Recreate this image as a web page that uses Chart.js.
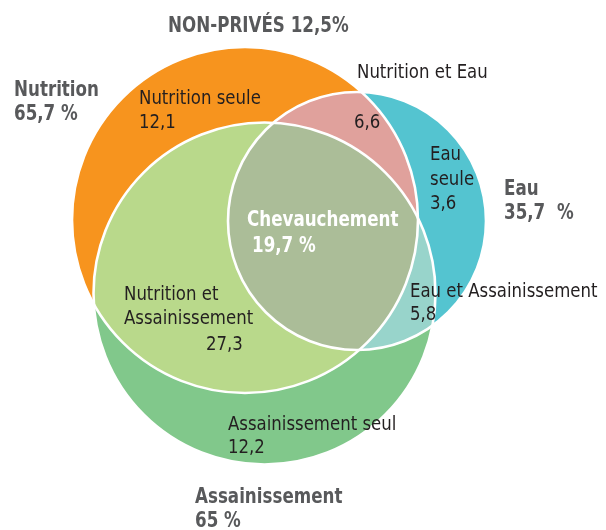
<!DOCTYPE html>
<html>
<head>
<meta charset="utf-8">
<script src="https://cdn.jsdelivr.net/npm/chart.js@4.4.1/dist/chart.umd.min.js"></script>
<style>
  html, body { margin: 0; padding: 0; background: #fff; }
  #wrap { width: 606px; height: 530px; position: relative; }
</style>
</head>
<body>
<div id="wrap"><canvas id="venn"></canvas></div>
<script>
// values
const setNames = ['Nutrition', 'Eau', 'Assainissement'];
const setTotals = [65.7, 35.7, 65];
const regionNames = ['Nutrition seule', 'Nutrition et Eau', 'Eau seule', 'Chevauchement',
  'Eau et Assainissement', 'Nutrition et Assainissement', 'Assainissement seul'];
const regionValues = [12.1, 6.6, 3.6, 19.7, 5.8, 27.3, 12.2];
const outsideLabel = 'NON-PRIVÉS';
const outsideValue = 12.5;

// layout (pixel space: x 0..606, y 0..530)
const circles = [
  { x: 245, y: 220, r: 173, color: '#F7941E' },   // Nutrition
  { x: 357, y: 221, r: 129, color: '#54C4D0' },   // Eau
  { x: 264.5, y: 293.5, r: 171, color: '#81C88B' } // Assainissement
];
const overlapFills = [
  { sets: [0, 2], color: '#B9D98B' },
  { sets: [0, 1], color: '#E0A19C' },
  { sets: [1, 2], color: '#98D4CB' },
  { sets: [0, 1, 2], color: '#ABBD98' }
];

const fmt = v => (Number.isInteger(v) ? String(v) : v.toFixed(1)).replace('.', ',');

// condensed look: DejaVu Sans Condensed squeezed a little more
const FONT = '"DejaVu Sans Condensed", "Liberation Sans Narrow", sans-serif';

// text placements: lines, x, y (baseline of first line)
const labels = [
  { lines: [outsideLabel + ' ' + fmt(outsideValue) + '%'], x: 168, y: 32, bold: true, color: '#58595B' },
  { lines: [setNames[0], fmt(setTotals[0]) + ' %'], x: 14, y: 96, bold: true, color: '#58595B' },
  { lines: [setNames[1], fmt(setTotals[1]) + '  %'], x: 504, y: 195, bold: true, color: '#58595B' },
  { lines: [setNames[2], fmt(setTotals[2]) + ' %'], x: 195, y: 503, bold: true, color: '#58595B' },
  { lines: [regionNames[0], fmt(regionValues[0])], x: 139, y: 104 },
  { lines: [regionNames[1]], x: 357, y: 78 },
  { lines: [fmt(regionValues[1])], x: 354, y: 128 },
  { lines: ['Eau', 'seule', fmt(regionValues[2])], x: 430, y: 160, gap: 24.5 },
  { lines: [regionNames[3]], x: 247, y: 226, bold: true, color: '#FFFFFF' },
  { lines: [fmt(regionValues[3]) + ' %'], x: 252, y: 252, bold: true, color: '#FFFFFF' },
  { lines: [regionNames[4], fmt(regionValues[4])], x: 410, y: 297, gap: 23 },
  { lines: ['Nutrition et', 'Assainissement'], x: 124, y: 300 },
  { lines: [fmt(regionValues[5])], x: 206, y: 350 },
  { lines: [regionNames[6], fmt(regionValues[6])], x: 228, y: 430, gap: 23 }
];

const vennPlugin = {
  id: 'venn',
  afterDatasetsDraw(chart) {
    const ctx = chart.ctx;
    const pts = chart.data.datasets.map((ds, i) => {
      const el = chart.getDatasetMeta(i).data[0];
      return { x: el.x, y: el.y, r: el.options.radius };
    });
    const path = k => {
      ctx.beginPath();
      ctx.arc(pts[k].x, pts[k].y, pts[k].r, 0, Math.PI * 2);
    };
    overlapFills.forEach(o => {
      ctx.save();
      o.sets.slice(1).forEach(k => { path(k); ctx.clip(); });
      path(o.sets[0]);
      ctx.fillStyle = o.color;
      ctx.fill();
      ctx.restore();
    });
    ctx.save();
    ctx.strokeStyle = '#FFFFFF';
    ctx.lineWidth = 2.6;
    pts.forEach((p, k) => { path(k); ctx.stroke(); });
    ctx.restore();
  },
  afterDraw(chart) {
    const ctx = chart.ctx;
    const sx = chart.scales.x, sy = chart.scales.y;
    labels.forEach(l => {
      const size = l.bold ? 21 : 20;
      const squeeze = l.bold ? 0.885 : 0.92;
      const gap = l.gap || 24;
      l.lines.forEach((t, i) => {
        ctx.save();
        ctx.translate(sx.getPixelForValue(l.x), sy.getPixelForValue(l.y + i * gap));
        ctx.scale(squeeze, 1);
        ctx.font = (l.bold ? 'bold ' : '') + size + 'px ' + FONT;
        ctx.fillStyle = l.color || '#231F20';
        ctx.textBaseline = 'alphabetic';
        ctx.textAlign = 'left';
        ctx.fillText(t, 0, 0);
        ctx.restore();
      });
    });
  }
};

new Chart(document.getElementById('venn'), {
  type: 'bubble',
  data: {
    datasets: circles.map((c, i) => ({
      label: setNames[i],
      data: [{ x: c.x, y: c.y, r: c.r }],
      backgroundColor: c.color,
      borderWidth: 0,
      clip: false
    }))
  },
  options: {
    responsive: true,
    maintainAspectRatio: false,
    animation: false,
    events: [],
    layout: { padding: 0, autoPadding: false },
    scales: {
      x: { type: 'linear', min: 0, max: 606, display: false },
      y: { type: 'linear', min: 0, max: 530, reverse: true, display: false }
    },
    plugins: {
      legend: { display: false },
      tooltip: { enabled: false }
    }
  },
  plugins: [vennPlugin]
});
</script>
</body>
</html>
